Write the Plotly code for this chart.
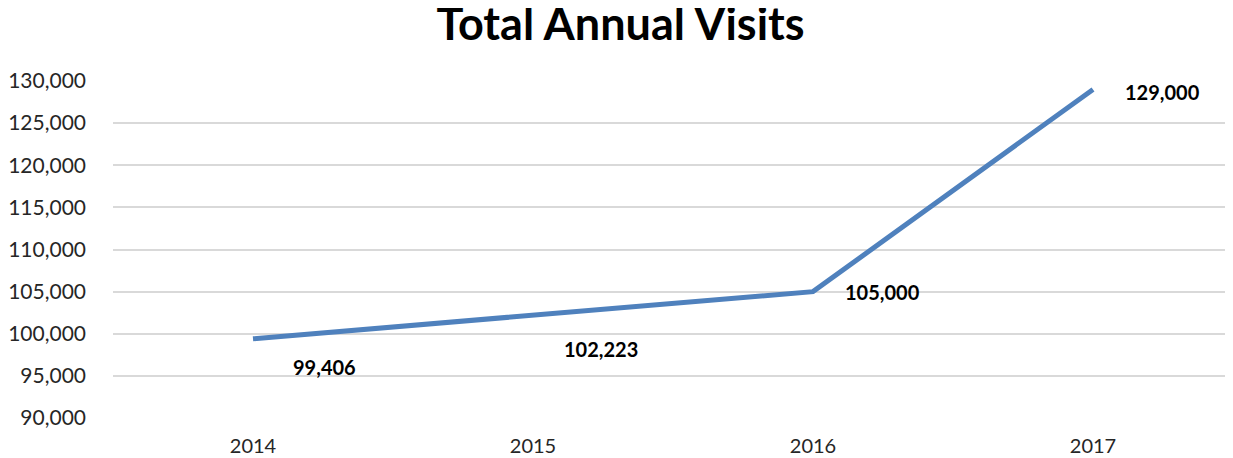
import plotly.graph_objects as go

years = ["2014", "2015", "2016", "2017"]
visits = [99406, 102223, 105000, 129000]
label_text = ["99,406", "102,223", "105,000", "129,000"]
label_dx = [71, 68, 69, 69]
label_dy = [-28, -34, 0, -3]

y_ticks = list(range(90000, 130001, 5000))
x_pos = list(range(len(years)))

fig = go.Figure()
fig.add_trace(go.Scatter(
    x=x_pos, y=visits, mode="lines",
    line=dict(color="#4F81BD", width=5),
    hoverinfo="skip", showlegend=False,
))

for x, y, t, dx, dy in zip(x_pos, visits, label_text, label_dx, label_dy):
    fig.add_annotation(x=x, y=y, text="<b>%s</b>" % t, showarrow=False,
                       xshift=dx, yshift=dy,
                       font=dict(family="Lato", size=20, color="#000000"))

fig.update_layout(
    width=1225, height=450,
    margin=dict(l=105, r=0, t=73, b=40, autoexpand=False),
    paper_bgcolor="white", plot_bgcolor="white",
    title=dict(text="<b>Total Annual Visits</b>", x=0.5, xanchor="center",
               xref="container", y=1, yanchor="top", yref="container",
               pad=dict(t=0, b=0),
               font=dict(family="Lato", size=45, color="#000000")),
    font=dict(family="Lato", size=20, color="#262626"),
)
fig.update_xaxes(range=[-0.5, 3.5], tickvals=x_pos, ticktext=years,
                 showgrid=False, showline=False, ticks="", zeroline=False,
                 automargin=False, ticklabelstandoff=14,
                 tickfont=dict(size=20, color="#262626"))
fig.update_yaxes(range=[90000, 130000], tickvals=y_ticks,
                 ticktext=["{:,}".format(v) for v in y_ticks],
                 showgrid=True, gridcolor="#D9D9D9", gridwidth=1.5,
                 zeroline=False, showline=False, ticks="", ticklabelstandoff=26,
                 automargin=False,
                 tickfont=dict(size=21, color="#262626"))

fig.write_html("out.html")
